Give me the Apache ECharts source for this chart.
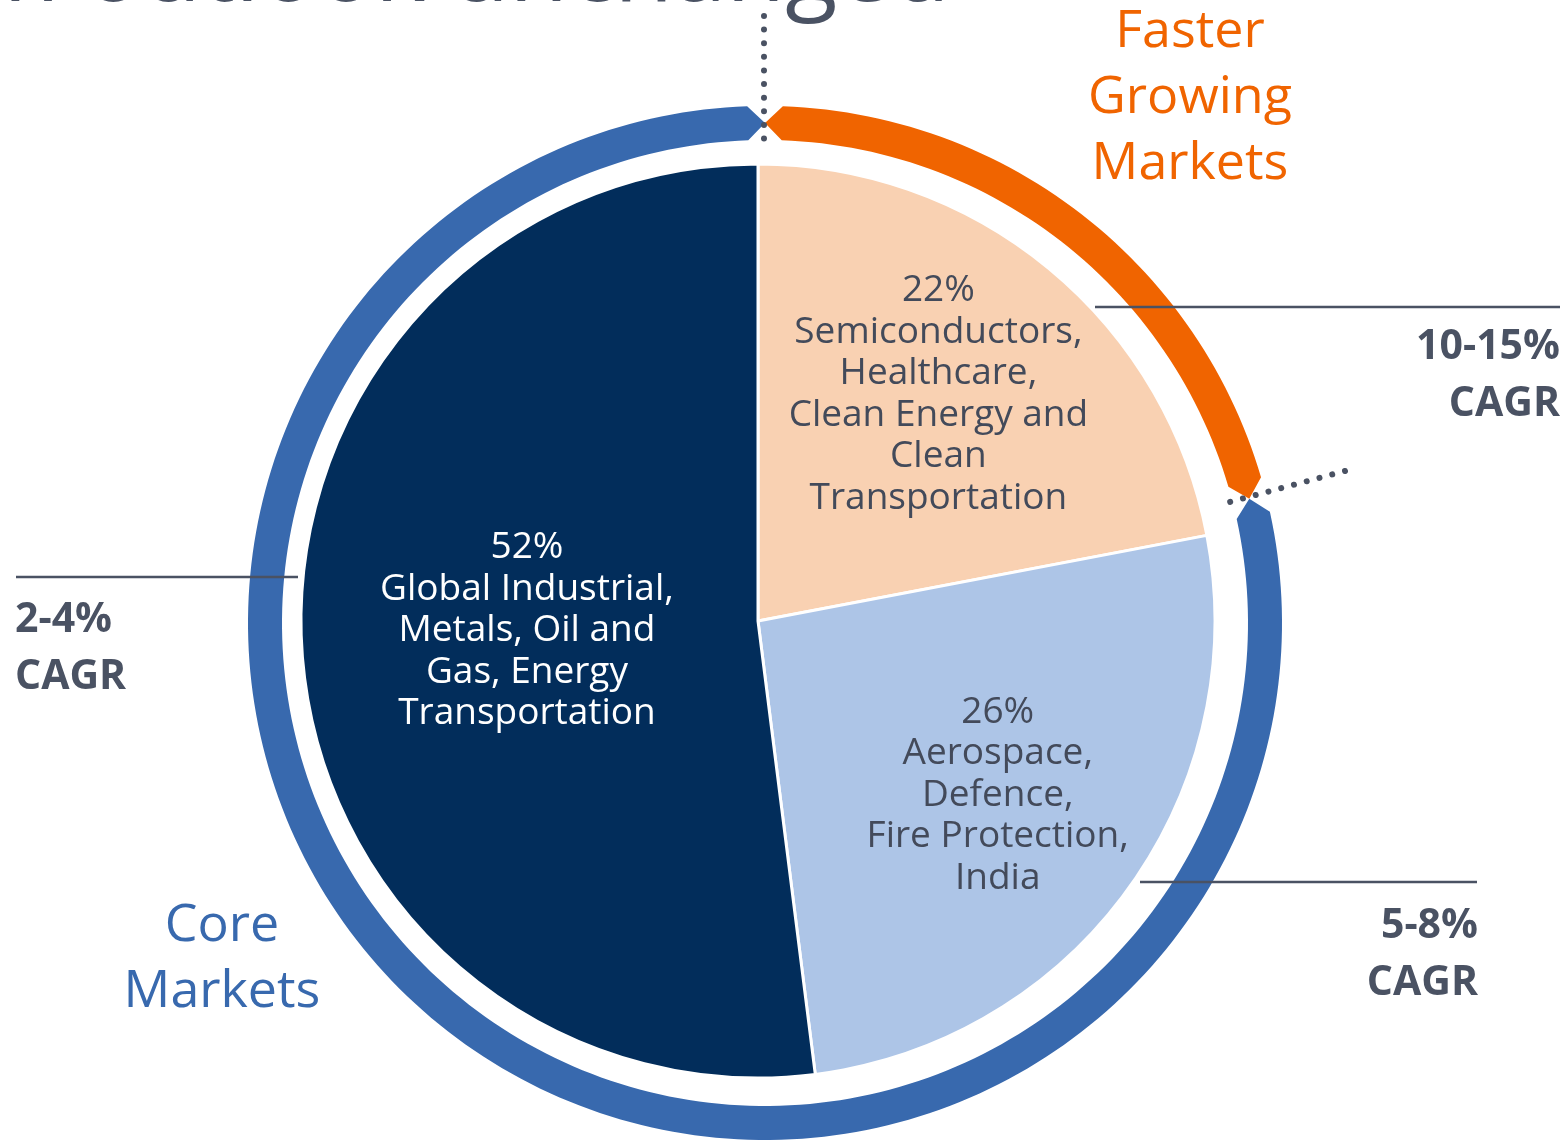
<!DOCTYPE html>
<html>
<head>
<meta charset="utf-8">
<title>Market mix</title>
<script src="https://cdn.jsdelivr.net/npm/echarts@6/dist/echarts.min.js"></script>
<style>
  html, body { margin: 0; padding: 0; background: #fff; }
  #chart { width: 1567px; height: 1145px; }
</style>
</head>
<body>
<div id="chart"></div>
<script>
// end-market segments (inner pie)
const segmentNames = [
  'Semiconductors,\nHealthcare,\nClean Energy and\nClean\nTransportation',
  'Aerospace,\nDefence,\nFire Protection,\nIndia',
  'Global Industrial,\nMetals, Oil and\nGas, Energy\nTransportation'
]
const segmentShares = [22, 26, 52]
const segmentColors = ['#f9d1b2', '#adc5e7', '#022d5b']
const segmentTextColors = ['#434a5a', '#434a5a', '#ffffff']

// market groups (outer ring)
const groupNames = ['Faster\nGrowing\nMarkets', 'Core\nMarkets']
const groupShares = [21, 79]
const groupColors = ['#f06400', '#3869ae']

// growth callouts
const cagrLabels = ['10-15%\nCAGR', '2-4%\nCAGR', '5-8%\nCAGR']

const FONT = '"Open Sans", "Noto Sans", sans-serif'
const GREY = '#4a5263'
const pieCenter = [758, 621]
const pieRadius = 457
const labelRadius = [0.635, 0.64, 0.5] // fraction of pie radius
const labelShiftX = [-7, 0, 0]
const labelShiftY = [0, 0, -5]
const ringOuter = 517, ringInner = 483, ringTip = 0.55

const chart = echarts.init(document.getElementById('chart'))

// cumulative start / end of each ring group
let acc = 0
const ringData = groupShares.map((v, i) => {
  const row = [acc, acc + v, i]
  acc += v
  return row
})

const option = {
  animation: false,
  polar: { center: [765, 623], radius: ringOuter },
  angleAxis: { type: 'value', min: 0, max: 100, startAngle: 90, clockwise: true, show: false },
  radiusAxis: { type: 'value', min: 0, max: ringOuter, show: false },
  series: [
    {
      type: 'pie',
      center: pieCenter,
      radius: [0, pieRadius],
      startAngle: 90,
      clockwise: true,
      silent: true,
      itemStyle: { borderColor: '#fff', borderWidth: 3 },
      label: {
        show: true,
        position: 'inside',
        fontFamily: FONT,
        fontSize: 37,
        lineHeight: 41.5,
        align: 'center',
        formatter: p => p.value + '%\n' + p.name
      },
      labelLine: { show: false },
      labelLayout: function (p) {
        const r = p.labelRect
        const cx = r.x + r.width / 2, cy = r.y + r.height / 2
        const k = labelRadius[p.dataIndex] / 0.5 - 1
        return {
          dx: (cx - pieCenter[0]) * k + labelShiftX[p.dataIndex],
          dy: (cy - pieCenter[1]) * k + labelShiftY[p.dataIndex]
        }
      },
      data: segmentShares.map((v, i) => ({
        value: v,
        name: segmentNames[i],
        itemStyle: { color: segmentColors[i] },
        label: { color: segmentTextColors[i] }
      }))
    },
    {
      type: 'custom',
      coordinateSystem: 'polar',
      silent: true,
      data: ringData,
      renderItem: function (params, api) {
        const a = api.value(0), b = api.value(1)
        const a1 = a + ringTip, b1 = b - ringTip
        const mid = (ringOuter + ringInner) / 2
        const steps = Math.max(10, Math.round((b1 - a1) * 3))
        const pts = []
        for (let s = 0; s <= steps; s++) pts.push(api.coord([ringOuter, a1 + (b1 - a1) * s / steps]))
        pts.push(api.coord([mid, b]))
        for (let s = steps; s >= 0; s--) pts.push(api.coord([ringInner, a1 + (b1 - a1) * s / steps]))
        pts.push(api.coord([mid, a]))
        return {
          type: 'polygon',
          shape: { points: pts },
          style: { fill: groupColors[api.value(2)] }
        }
      }
    }
  ],
  graphic: [
    // cut-off heading at the very top
    { type: 'text', z: 10, style: { text: 'Long term outlook unchanged', x: 950, y: 22, align: 'right', verticalAlign: 'bottom', fontFamily: FONT, fontSize: 96, fill: GREY } },
    // group names
    { type: 'text', z: 10, style: { text: groupNames[0], x: 1190, y: 98, align: 'center', verticalAlign: 'middle', fontFamily: FONT, fontSize: 52, lineHeight: 66, fill: groupColors[0] } },
    { type: 'text', z: 10, style: { text: groupNames[1], x: 222, y: 959, align: 'center', verticalAlign: 'middle', fontFamily: FONT, fontSize: 52, lineHeight: 66, fill: groupColors[1] } },
    // CAGR callouts
    { type: 'text', z: 10, style: { text: cagrLabels[0], x: 1560, y: 376, align: 'right', verticalAlign: 'middle', fontFamily: FONT, fontWeight: 'bold', fontSize: 41, lineHeight: 57, fill: GREY } },
    { type: 'text', z: 10, style: { text: cagrLabels[1], x: 15, y: 649, align: 'left', verticalAlign: 'middle', fontFamily: FONT, fontWeight: 'bold', fontSize: 41, lineHeight: 57, fill: GREY } },
    { type: 'text', z: 10, style: { text: cagrLabels[2], x: 1478, y: 955, align: 'right', verticalAlign: 'middle', fontFamily: FONT, fontWeight: 'bold', fontSize: 41, lineHeight: 57, fill: GREY } },
    // rules
    { type: 'line', z: 10, shape: { x1: 1095, y1: 307, x2: 1560, y2: 307 }, style: { stroke: GREY, lineWidth: 2.5 } },
    { type: 'line', z: 10, shape: { x1: 16, y1: 577, x2: 298, y2: 577 }, style: { stroke: GREY, lineWidth: 2.5 } },
    { type: 'line', z: 10, shape: { x1: 1140, y1: 882, x2: 1477, y2: 882 }, style: { stroke: GREY, lineWidth: 2.5 } },
    // dotted dividers
    { type: 'line', z: 10, shape: { x1: 764, y1: 16, x2: 764, y2: 140 }, style: { stroke: GREY, lineWidth: 6, lineCap: 'round', lineDash: [0.01, 13.6] } },
    { type: 'line', z: 10, shape: { x1: 1345, y1: 471, x2: 1226, y2: 503 }, style: { stroke: GREY, lineWidth: 6, lineCap: 'round', lineDash: [0.01, 13.2] } }
  ]
}

chart.setOption(option)
</script>
</body>
</html>
